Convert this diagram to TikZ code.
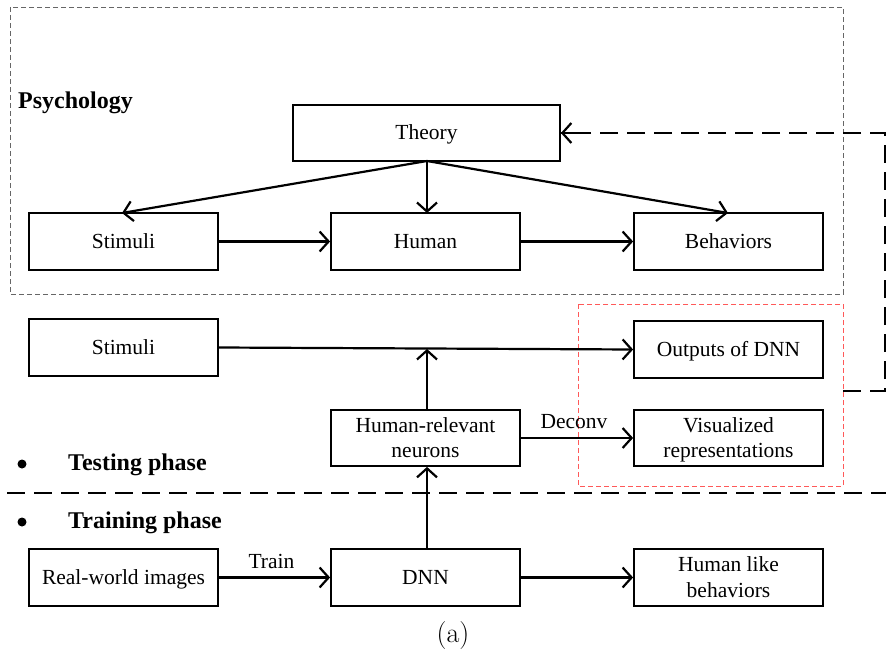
\documentclass[tikz,border=0pt]{standalone}
\usepackage{fontspec}
\usetikzlibrary{arrows.meta}
\newfontfamily\tnr{Liberation Serif}
\begin{document}
\begin{tikzpicture}[x=1pt,y=-1pt,
  box/.style={draw,line width=1.8pt,minimum width=189pt,minimum height=57pt,inner sep=0pt,
    font=\tnr\fontsize{21.5}{25.5}\selectfont,align=center,text depth=1pt},
  tip/.style={-{Straight Barb[length=9pt,width=20pt,line width=2.2pt]}},
  flow/.style={line width=2.2pt,tip},
  feedback/.style={line width=2.6pt,dash pattern=on 18pt off 9pt},
  lbl/.style={font=\tnr\fontsize{21.5}{25}\selectfont,inner sep=0pt},
  head/.style={font=\tnr\bfseries\fontsize{24}{26}\selectfont,inner sep=0pt,anchor=west},
  dot/.style={circle,fill,inner sep=0pt,minimum size=9pt}]
\useasboundingbox (0,0) rectangle (886,655);

% frames
\draw[gray!80!black,line width=0.8pt,dash pattern=on 5pt off 3pt] (10,7) rectangle (843,294);
\draw[red!65,line width=0.8pt,dash pattern=on 5pt off 3pt] (578,304) rectangle (843,486);
\node[head] (psy) at (18,103) {Psychology};

% psychology row
\node[box,minimum width=267pt,minimum height=56pt] (theory) at (426.5,133) {Theory};
\node[box] (stim1) at (123.5,241.5) {Stimuli};
\node[box] (human) at (425.5,241.5) {Human};
\node[box] (behav) at (728.5,241.5) {Behaviors};

\draw[flow] (427,161) -- (122,213);
\draw[flow] (427,161) -- (427,213);
\draw[flow] (427,161) -- (728,213);
\draw[flow] (stim1) -- (human);
\draw[flow] (human) -- (behav);

% testing phase
\node[box] (stim2) at (123.5,347.5) {Stimuli};
\node[box] (outp) at (728.5,349.5) {Outputs of DNN};
\node[box,minimum height=56pt] (neur) at (425.5,438) {Human-relevant\\neurons};
\node[box,minimum height=56pt] (vis) at (728.5,438) {Visualized\\representations};
\coordinate (join) at (427,349);
\draw[flow] (stim2.east) -- (outp.west);
\draw[flow] (neur.north -| join) -- (join);
\draw[flow] (neur) -- node[lbl,above=8pt,xshift=-3pt] (deconv) {Deconv} (vis);

% feedback to theory
\coordinate (fbstart) at (843,391);
\coordinate (fbcorner1) at (885,391);
\coordinate (fbcorner2) at (885,133);
\draw[feedback] (fbstart) -- (fbcorner1) -- (fbcorner2) -- (theory.east);
\draw[line width=2.2pt,tip] ([xshift=12pt]theory.east) -- (theory.east);

% phase labels
\node[dot] (b1) at (22,464) {};
\node[head] (testing) at (68,465) {Testing phase};
\draw[feedback] (7,493) -- (886,493);
\node[dot] (b2) at (22,522) {};
\node[head] (training) at (68,523) {Training phase};

% training row
\node[box] (real) at (123.5,577.5) {Real-world images};
\node[box] (dnn) at (425.5,577.5) {DNN};
\node[box] (hlb) at (728.5,577.5) {Human like\\behaviors};
\draw[flow] (real) -- node[lbl,above=8pt,xshift=-3pt] (train) {Train} (dnn);
\draw[flow] (dnn.north -| join) -- (neur.south -| join);
\draw[flow] (dnn) -- (hlb);

\node[font=\fontsize{28}{30}\selectfont,inner sep=0pt] (cap) at (453,636) {(a)};
\end{tikzpicture}
\end{document}
